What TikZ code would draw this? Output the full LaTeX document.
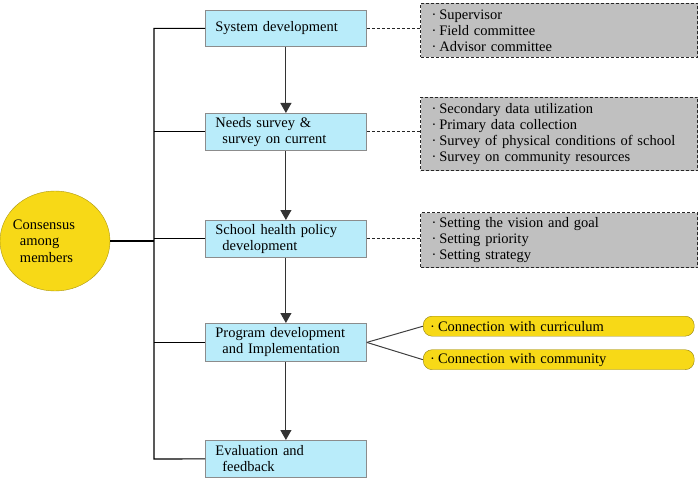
\documentclass[tikz,border=0pt]{standalone}
\usepackage{fontspec}
\setmainfont{Liberation Serif}
\usetikzlibrary{arrows.meta,shapes.geometric}
\definecolor{boxblue}{HTML}{B9ECFA}
\definecolor{boxgray}{HTML}{C0C0C0}
\definecolor{yel}{HTML}{F7D917}
\newcommand{\bul}{·\hspace{3pt}}
\begin{document}
\begin{tikzpicture}[x=1pt,y=-1pt,
  stage/.style={draw=black!45, fill=boxblue, line width=0.8pt, minimum width=161pt, minimum height=37pt,
    text width=141pt, align=left, inner xsep=10pt, inner ysep=1pt, font=\fontsize{14.5}{16}\selectfont, anchor=north west},
  detail/.style={draw=black!85, dash pattern=on 3pt off 2pt, fill=boxgray, line width=1pt, minimum width=277pt,
    text width=255pt, align=left, inner xsep=11pt, inner ysep=0pt, font=\fontsize{14.5}{16}\selectfont, anchor=north west},
  link/.style={draw=yel!60!black, fill=yel, rounded corners=9pt, minimum width=271pt, minimum height=20pt,
    text width=257pt, align=left, inner xsep=7pt, inner ysep=0pt, font=\fontsize{14.5}{15}\selectfont, anchor=north west},
  flow/.style={line width=1pt, black!80, -{Triangle[width=11pt,length=10pt]}},
  bus/.style={line width=1.1pt, black},
  dline/.style={dash pattern=on 3pt off 2pt, line width=1pt, black!85}]
\useasboundingbox (0,0) rectangle (698,484);
\node[ellipse, fill=yel, draw=yel!70!black, minimum width=110pt, minimum height=100pt, align=left,
  font=\fontsize{14.5}{16.5}\selectfont, inner xsep=-14pt, inner ysep=0pt] (cons) at (55,241)
  {Consensus\hspace*{22pt}\\\hspace*{7pt}among\\\hspace*{7pt}members};

\node[stage, minimum height=36pt] (s1) at (205,10) {System development};
\node[stage] (s2) at (205,113) {Needs survey \&\\\hspace*{7pt}survey on current};
\node[stage] (s3) at (205,220) {School health policy\\\hspace*{7pt}development};
\node[stage, minimum height=38pt] (s4) at (205,323) {Program development\\\hspace*{7pt}and Implementation};
\node[stage] (s5) at (205,440) {Evaluation and\\\hspace*{7pt}feedback};

\node[detail, minimum height=54pt] (d1) at (420,3) {\bul Supervisor\\\bul Field committee\\\bul Advisor committee};
\node[detail, minimum height=73pt] (d2) at (420,97) {\bul Secondary data utilization\\\bul Primary data collection\\\bul Survey of physical conditions of school\\\bul Survey on community resources};
\node[detail, minimum height=55pt] (d3) at (420,212) {\bul Setting the vision and goal\\\bul Setting priority\\\bul Setting strategy};

\node[link] (y1) at (423,316) {\bul Connection with curriculum};
\node[link] (y2) at (423,349.5) {\bul Connection with community};

\coordinate (bt) at (154,28);
\coordinate (bb) at (154,459);
\draw[bus] (s1.west) -| (bt) -- (bb) -- (s5.west);
\draw[bus] (s2.west) -- (s2.west -| bt);
\draw[bus] (s3.west) -- (s3.west -| bt);
\draw[bus] (s4.west) -- (s4.west -| bt);
\draw[bus] (cons.east) -- (cons.east -| bt);

\draw[flow] (s1) -- (s2);
\draw[flow] (s2) -- (s3);
\draw[flow] (s3) -- (s4);
\draw[flow] (s4) -- (s5);

\draw[dline] (s1.east) -- (s1.east -| d1.west);
\draw[dline] (s2.east) -- (s2.east -| d2.west);
\draw[dline] (s3.east) -- (s3.east -| d3.west);

\draw[line width=1pt, black!75] (s4.east) -- (y1.west);
\draw[line width=1pt, black!75] (s4.east) -- (y2.west);
\end{tikzpicture}
\end{document}
